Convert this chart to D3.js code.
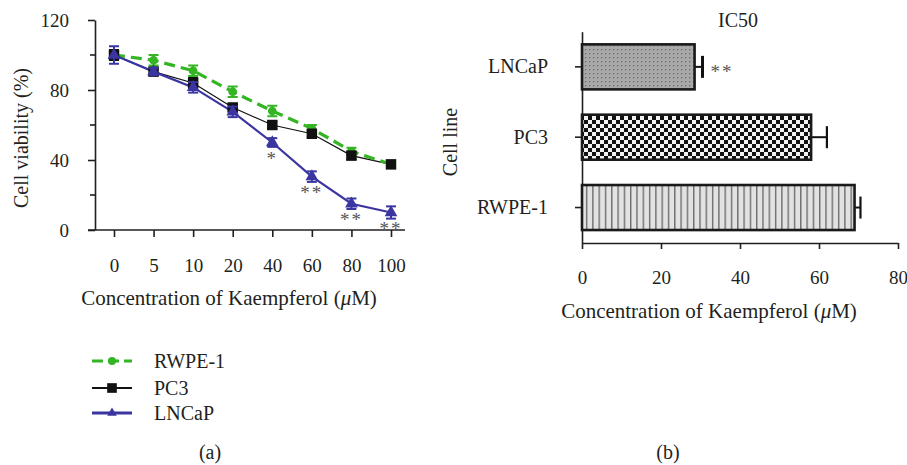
<!DOCTYPE html>
<html>
<head>
<meta charset="utf-8">
<script src="https://cdn.jsdelivr.net/npm/d3@7"></script>
<style>
  body { margin: 0; background: #fff; }
  svg text { font-family: "Liberation Serif", "DejaVu Serif", serif; fill: #231f20; }
</style>
</head>
<body>
<div id="chart"></div>
<script>
// ---------- Data ----------
// (a) viability vs concentration
var concentrations = ["0", "5", "10", "20", "40", "60", "80", "100"];
var rwpeMean  = [100, 97, 91, 79, 68, 58, 45, 37.5];
var rwpeErr   = [2, 3, 3, 3, 3, 2, 2, 2];
var pc3Mean   = [100, 90.5, 84, 70, 60, 55, 42.5, 37.5];
var pc3Err    = [3, 2, 3, 2, 2, 2, 2, 2];
var lncapMean = [100, 90.5, 81.5, 67.5, 50, 30.5, 15, 10];
var lncapErr  = [5, 2, 3, 3, 2.5, 3, 3, 3.5];
var lncapSig  = ["", "", "", "", "*", "**", "**", "**"];
var yTicks    = [0, 40, 80, 120];
var yMinor    = [20, 60, 100];

// (b) IC50
var cellLines = ["LNCaP", "PC3", "RWPE-1"];
var ic50Mean  = [28.5, 58, 69];
var ic50Err   = [2, 4, 1.5];
var ic50Sig   = ["**", "", ""];
var ic50Ticks = [0, 20, 40, 60, 80];

var W = 907, H = 465;
var ink = "#231f20";
var serif = '"Liberation Serif", "DejaVu Serif", serif';

var svg = d3.select("#chart").append("svg")
  .attr("width", W).attr("height", H)
  .attr("font-family", serif);

var defs = svg.append("defs");

// Patterns for the IC50 bars
var pDots = defs.append("pattern").attr("id", "dots")
  .attr("patternUnits", "userSpaceOnUse").attr("width", 4).attr("height", 4);
pDots.append("rect").attr("width", 4).attr("height", 4).attr("fill", "#a9a9a9");
pDots.append("rect").attr("x", 1).attr("y", 1).attr("width", 1.3).attr("height", 1.3).attr("fill", "#6a6a6a");

var pCheck = defs.append("pattern").attr("id", "check")
  .attr("patternUnits", "userSpaceOnUse").attr("width", 8).attr("height", 8);
pCheck.append("rect").attr("width", 8).attr("height", 8).attr("fill", "#f2f2f2");
pCheck.append("rect").attr("width", 4).attr("height", 4).attr("fill", "#111");
pCheck.append("rect").attr("x", 4).attr("y", 4).attr("width", 4).attr("height", 4).attr("fill", "#111");

var pLines = defs.append("pattern").attr("id", "vlines")
  .attr("patternUnits", "userSpaceOnUse").attr("width", 6.3).attr("height", 10);
pLines.append("rect").attr("width", 6.3).attr("height", 10).attr("fill", "#e2e2e2");
pLines.append("rect").attr("x", 0).attr("width", 1.4).attr("height", 10).attr("fill", "#6e6e6e");

////////////////////////////////////////////////////////////
//////////////////////// Panel (a) /////////////////////////
////////////////////////////////////////////////////////////
var x = d3.scalePoint().domain(concentrations).range([114, 391]);
var y = d3.scaleLinear().domain([0, 120]).range([230, 20]);
var axisX0 = 95;

var gA = svg.append("g");

// y axis
var yAxis = gA.append("g").attr("transform", "translate(" + axisX0 + ",0)")
  .call(d3.axisLeft(y).tickValues(yTicks).tickSize(7).tickPadding(19).tickSizeOuter(0));
yAxis.attr("font-family", serif);
yAxis.selectAll(".tick text").attr("font-size", 19).attr("fill", ink);
yAxis.selectAll("line, path").attr("stroke", ink).attr("stroke-width", 1.6);
yAxis.selectAll(".minor").data(yMinor).enter().append("line")
  .attr("x1", -5).attr("x2", 0)
  .attr("y1", function(d) { return y(d); }).attr("y2", function(d) { return y(d); })
  .attr("stroke", ink).attr("stroke-width", 1.6);

// x axis
var xAxis = gA.append("g").attr("transform", "translate(0," + y(0) + ")")
  .call(d3.axisBottom(x).tickSize(7).tickPadding(22).tickSizeOuter(0));
xAxis.attr("font-family", serif);
xAxis.select(".domain").remove();
xAxis.append("line").attr("x1", 88).attr("x2", 405).attr("stroke", ink).attr("stroke-width", 1.6);
xAxis.selectAll(".tick text").attr("font-size", 19).attr("fill", ink);
xAxis.selectAll(".tick line").attr("stroke", ink).attr("stroke-width", 1.6);

gA.append("text").attr("x", 229).attr("y", 305).attr("text-anchor", "middle")
  .attr("font-size", 21)
  .html('Concentration of Kaempferol (<tspan font-style="italic">μ</tspan>M)');
gA.append("text").attr("transform", "translate(28,138) rotate(-90)")
  .attr("text-anchor", "middle").attr("font-size", 20).text("Cell viability (%)");

var series = [
  { name: "PC3", mean: pc3Mean, err: pc3Err, color: "#111111", width: 1.2, dash: null, marker: "square" },
  { name: "RWPE-1", mean: rwpeMean, err: rwpeErr, color: "#33b524", width: 3.2, dash: "11,6", marker: "circle" },
  { name: "LNCaP", mean: lncapMean, err: lncapErr, color: "#3a35a0", width: 2.2, dash: null, marker: "triangle" }
];

var line = d3.line()
  .x(function(d, i) { return x(concentrations[i]); })
  .y(function(d) { return y(d); });

series.forEach(function(s) {
  gA.append("path").datum(s.mean)
    .attr("d", line).attr("fill", "none")
    .attr("stroke", s.color).attr("stroke-width", s.width)
    .attr("stroke-dasharray", s.dash);
});

var symbolType = { square: d3.symbolSquare, circle: d3.symbolCircle, triangle: d3.symbolTriangle };
var symbolSize = { square: 110, circle: 60, triangle: 70 };

["RWPE-1", "PC3", "LNCaP"].forEach(function(nm) {
  var s = series.filter(function(d) { return d.name === nm; })[0];
  var g = gA.append("g");
  s.mean.forEach(function(v, i) {
    var cx = x(concentrations[i]);
    var y1 = y(v + s.err[i]), y2 = y(v - s.err[i]);
    var ew = s.name === "PC3" ? 1.5 : 2;
    g.append("line").attr("x1", cx).attr("x2", cx).attr("y1", y1).attr("y2", y2)
      .attr("stroke", s.color).attr("stroke-width", ew);
    [y1, y2].forEach(function(yy) {
      g.append("line").attr("x1", cx - 5).attr("x2", cx + 5).attr("y1", yy).attr("y2", yy)
        .attr("stroke", s.color).attr("stroke-width", ew);
    });
    g.append("path")
      .attr("d", d3.symbol().type(symbolType[s.marker]).size(symbolSize[s.marker])())
      .attr("transform", "translate(" + cx + "," + y(v) + ")")
      .attr("fill", s.color);
  });
});

// significance marks
gA.selectAll(".sig").data(lncapSig).enter().append("text")
  .attr("x", function(d, i) { return x(concentrations[i]); })
  .attr("y", function(d, i) { return y(lncapMean[i]) + 22; })
  .attr("text-anchor", "middle").attr("font-size", 19)
  .style("fill", "#555").attr("letter-spacing", 2)
  .text(function(d) { return d; });

// legend
var legend = gA.append("g");
var legendOrder = ["RWPE-1", "PC3", "LNCaP"];
var legendY = [361, 388, 413];
legendOrder.forEach(function(nm, i) {
  var s = series.filter(function(d) { return d.name === nm; })[0];
  legend.append("line").attr("x1", 92).attr("x2", 132)
    .attr("y1", legendY[i]).attr("y2", legendY[i])
    .attr("stroke", s.color).attr("stroke-width", nm === "PC3" ? 2 : 3)
    .attr("stroke-dasharray", nm === "RWPE-1" ? "11,5" : null);
  legend.append("path")
    .attr("d", d3.symbol().type(symbolType[s.marker]).size(nm === "LNCaP" ? 40 : symbolSize[s.marker] * 0.85)())
    .attr("transform", "translate(112," + legendY[i] + ")")
    .attr("fill", s.color);
  legend.append("text").attr("x", 154).attr("y", legendY[i] + 7)
    .attr("font-size", 20).text(nm);
});

svg.append("text").attr("x", 210).attr("y", 459).attr("text-anchor", "middle")
  .attr("font-size", 20).text("(a)");

////////////////////////////////////////////////////////////
//////////////////////// Panel (b) /////////////////////////
////////////////////////////////////////////////////////////
var xb = d3.scaleLinear().domain([0, 80]).range([582, 898]);
var yb = d3.scaleBand().domain(cellLines).range([31.7, 242.7])
  .paddingInner(0.36).paddingOuter(0.18);
var fills = ["url(#dots)", "url(#check)", "url(#vlines)"];

var gB = svg.append("g");

var xbAxis = gB.append("g").attr("transform", "translate(0,243)")
  .call(d3.axisBottom(xb).tickValues(ic50Ticks).tickSize(6).tickPadding(22).tickSizeOuter(0));
xbAxis.attr("font-family", serif);
xbAxis.selectAll(".tick text").attr("font-size", 19).attr("fill", ink);
xbAxis.selectAll("line, path").attr("stroke", ink).attr("stroke-width", 1.6);

var ybAxis = gB.append("g").attr("transform", "translate(582,0)")
  .call(d3.axisLeft(yb).tickSize(7).tickPadding(27).tickSizeOuter(0));
ybAxis.attr("font-family", serif);
ybAxis.selectAll(".tick text").attr("font-size", 20).attr("fill", ink);
ybAxis.selectAll("line, path").attr("stroke", ink).attr("stroke-width", 1.6);

// error bars
cellLines.forEach(function(c, i) {
  var cy = yb(c) + yb.bandwidth() / 2;
  var ew = i === 0 ? 3 : 2.2;
  gB.append("line").attr("x1", xb(ic50Mean[i])).attr("x2", xb(ic50Mean[i] + ic50Err[i]))
    .attr("y1", cy).attr("y2", cy).attr("stroke", "#111").attr("stroke-width", 2);
  gB.append("line").attr("x1", xb(ic50Mean[i] + ic50Err[i])).attr("x2", xb(ic50Mean[i] + ic50Err[i]))
    .attr("y1", cy - 11).attr("y2", cy + 11).attr("stroke", "#111").attr("stroke-width", ew);
});

gB.selectAll(".bar").data(cellLines).enter().append("rect")
  .attr("x", xb(0))
  .attr("y", function(d) { return yb(d); })
  .attr("width", function(d, i) { return xb(ic50Mean[i]) - xb(0); })
  .attr("height", yb.bandwidth())
  .attr("fill", function(d, i) { return fills[i]; })
  .attr("stroke", "#1a1a1a").attr("stroke-width", 2.6);

gB.selectAll(".sigb").data(ic50Sig).enter().append("text")
  .attr("x", function(d, i) { return xb(ic50Mean[i] + ic50Err[i]) + 8; })
  .attr("y", function(d, i) { return yb(cellLines[i]) + yb.bandwidth() / 2 + 11; })
  .attr("font-size", 19).style("fill", "#555").attr("letter-spacing", 2)
  .text(function(d) { return d; });

gB.append("text").attr("x", 738).attr("y", 27).attr("text-anchor", "middle")
  .attr("font-size", 20).text("IC50");
gB.append("text").attr("x", 709).attr("y", 318).attr("text-anchor", "middle")
  .attr("font-size", 21)
  .html('Concentration of Kaempferol (<tspan font-style="italic">μ</tspan>M)');
gB.append("text").attr("transform", "translate(457,142) rotate(-90)")
  .attr("text-anchor", "middle").attr("font-size", 20).text("Cell line");

svg.append("text").attr("x", 668).attr("y", 459).attr("text-anchor", "middle")
  .attr("font-size", 20).text("(b)");
</script>
</body>
</html>
